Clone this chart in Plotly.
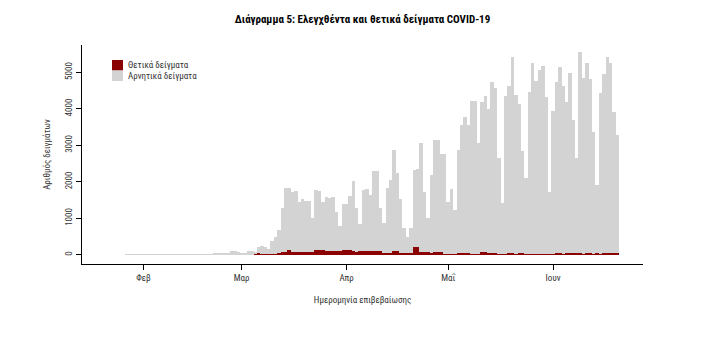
import pandas as pd
import plotly.graph_objects as go

# ---- data ----
start_date = "2020-01-27"

tested = [
    5, 8, 10, 6, 12, 8, 10, 15, 10, 8, 12, 10, 15, 12, 10, 14, 12, 15, 10, 12,
    15, 18, 20, 15, 18, 20, 25, 30, 35, 40,
    30, 90, 90, 80, 60, 60, 100, 100, 60, 210, 230, 210, 160, 390, 500, 690,
    1290, 1840, 1820, 1720, 1740, 1460, 1520, 1480, 1470, 1000, 1770, 1750,
    1450, 1580, 1560, 1580, 1170, 800, 1380, 1400, 1610, 2010, 1290, 830,
    1780, 1790, 1630, 2300, 2290, 1280, 880,
    1840, 2040, 2880, 2240, 1540, 740, 500, 740, 2315, 2360, 3070, 1720, 1020,
    2200, 3140, 3140, 2770, 2755, 1446, 1794, 1217, 2865, 3552, 3781, 3552,
    4212, 4212, 3076, 4175, 4358, 3992, 4724, 4560, 2664, 1428, 4358, 4632,
    5420, 4376, 4120, 2838, 2115, 4450, 5247, 4760, 5063, 5173, 4330, 1720,
    3937, 4742, 5154, 4632, 4192, 4972, 3690, 2654, 5549, 4835, 5247, 4816,
    3352, 1904, 4423, 4944, 5430, 5247, 3918, 3277,
]

positive = [0] * 30 + [
    0, 0, 0, 0, 0, 0, 0, 5, 40, 42, 10, 12, 8, 10, 12, 62, 68, 65, 137,
    80, 70, 75, 85, 65, 75, 70, 135, 140, 132, 112, 105, 110, 115, 108,
    128, 132, 126, 92, 88, 90, 102, 98, 100, 104, 96, 100, 55, 58, 52,
    110, 108, 45, 42, 48, 40, 212, 205, 78, 72, 75, 45, 75, 78, 72,
    30, 32, 28, 30, 45, 48, 42, 45, 30, 28, 32, 75, 72, 45, 60, 58,
    30, 32, 28, 50, 52, 30, 55, 52, 30, 25, 22, 28, 25, 24, 26, 22, 25,
    35, 38, 32, 35, 45, 48, 42, 35, 32, 38, 35, 30, 36, 34, 55, 52,
    40, 42, 38,
]

negative = [t - p for t, p in zip(tested, positive)]
dates = pd.date_range(start=start_date, periods=len(tested), freq="D")

tick_dates = ["2020-02-01", "2020-03-01", "2020-04-01", "2020-05-01", "2020-06-01"]
tick_text = ["Φεβ", "Μαρ", "Απρ", "Μαΐ", "Ιουν"]
y_ticks = [0, 1000, 2000, 3000, 4000, 5000]

series_names = ["Θετικά δείγματα", "Αρνητικά δείγματα"]
series_colors = ["#8B0000", "#D3D3D3"]

FONT = "Liberation Sans Narrow, Roboto Condensed, Arial Narrow, Roboto, sans-serif"

fig = go.Figure()
fig.add_trace(go.Bar(x=dates, y=positive, name=series_names[0],
                     marker=dict(color=series_colors[0], line=dict(width=0)),
                     showlegend=False))
fig.add_trace(go.Bar(x=dates, y=negative, name=series_names[1],
                     marker=dict(color=series_colors[1], line=dict(width=0)),
                     showlegend=False))

# plot area in pixels
W, H = 705, 344
L, R, T, B = 82, 62, 45, 80
pw, ph = W - L - R, H - T - B


def px_x(x):
    return (x - L) / pw


def px_y(y):
    return 1 - (y - T) / ph


# manual legend (contiguous squares like the reference)
shapes = []
annotations = []
for i, (nm, col) in enumerate(zip(series_names, series_colors)):
    y0 = 60 + i * 10.5
    shapes.append(dict(type="rect", xref="paper", yref="paper",
                       x0=px_x(112), x1=px_x(123), y0=px_y(y0), y1=px_y(y0 + 10.5),
                       fillcolor=col, line=dict(width=0)))
    annotations.append(dict(xref="paper", yref="paper", x=px_x(126), y=px_y(y0 + 5.25),
                            text=nm, showarrow=False, xanchor="left", yanchor="middle",
                            font=dict(family=FONT, size=9, color="#333333")))

fig.update_layout(
    width=W, height=H,
    margin=dict(l=L, r=R, t=T, b=B, autoexpand=False),
    paper_bgcolor="white", plot_bgcolor="white",
    barmode="stack", bargap=0,
    font=dict(family=FONT, size=9, color="#333333"),
    title=dict(text="<b>Διάγραμμα 5: Ελεγχθέντα και θετικά δείγματα COVID-19</b>",
               x=px_x(362.5) * pw / W + L / W, xanchor="center",
               y=1 - 19 / H, yanchor="middle",
               font=dict(family=FONT, size=11, color="black")),
    shapes=shapes,
    annotations=annotations,
    xaxis=dict(
        type="date",
        range=["2020-01-13 20:00", "2020-06-27 13:30"],
        tickvals=tick_dates, ticktext=tick_text,
        showgrid=False, zeroline=False,
        showline=True, linecolor="black", linewidth=1,
        ticks="outside", ticklen=5, tickcolor="black",
        tickfont=dict(family=FONT, size=9, color="#333333"),
        title=dict(text="Ημερομηνία επιβεβαίωσης", standoff=14,
                   font=dict(family=FONT, size=9, color="#333333")),
    ),
    yaxis=dict(
        range=[-253, 5750],
        tickvals=y_ticks,
        showgrid=False, zeroline=False,
        showline=True, linecolor="black", linewidth=1,
        ticks="outside", ticklen=5, tickcolor="black",
        tickangle=-90,
        tickfont=dict(family=FONT, size=9, color="#333333"),
        title=dict(text="Αριθμός δειγμάτων", standoff=12,
                   font=dict(family=FONT, size=9, color="#333333")),
    ),
)

fig.write_html("out.html")
